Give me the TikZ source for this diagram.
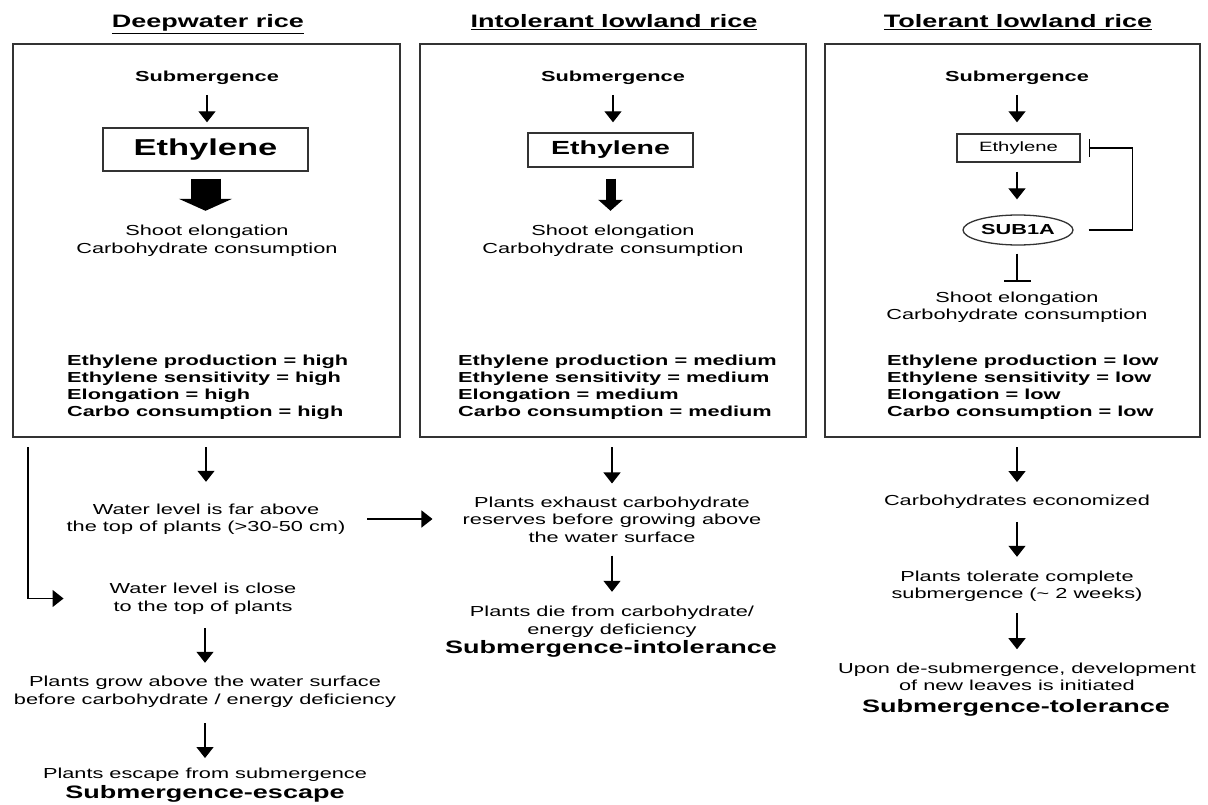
\documentclass[tikz,border=0pt]{standalone}
\usepackage{fontspec}
\setmainfont{Liberation Sans}[FakeStretch=1.5]
\usetikzlibrary{arrows.meta,shapes.geometric,calc}
\begin{document}
\begin{tikzpicture}[x=1pt,y=-1pt,
  txt/.style={inner sep=0pt, align=center, font=\fontsize{14.5}{17.5}\selectfont},
  bld/.style={inner sep=0pt, font=\fontsize{14.5}{17}\selectfont\bfseries},
  stats/.style={inner sep=0pt, align=left, anchor=west, font=\fontsize{14.5}{17}\selectfont\bfseries},
  ttl/.style={inner sep=0pt, anchor=base, font=\fontsize{18}{20}\selectfont\bfseries},
  res/.style={inner sep=0pt, font=\fontsize{18}{20}\selectfont\bfseries},
  panel/.style={draw=black!80, line width=2pt, inner sep=0pt},
  ebox/.style={draw=black!80, line width=1.4pt, inner sep=0pt},
  arr/.style={line width=1.3pt, -{Triangle[width=17pt,length=11pt]}},
  inh/.style={line width=1.3pt, -{Bar[width=27pt]}},
  inhs/.style={line width=1.3pt, -{Bar[width=18pt]}}
]
\useasboundingbox (0,0) rectangle (1208,805);
% titles
\node[ttl] (t1) at (208,28) {\underline{Deepwater rice}};
\node[ttl] (t2) at (614,28) {\underline{Intolerant lowland rice}};
\node[ttl] (t3) at (1018,28) {\underline{Tolerant lowland rice}};
% panels
\node[panel, minimum width=387pt, minimum height=393pt] (b1) at (206.5,240.5) {};
\node[panel, minimum width=386pt, minimum height=393pt] (b2) at (613,240.5) {};
\node[panel, minimum width=375pt, minimum height=393pt] (b3) at (1012.5,240.5) {};
% ---- column 1
\node[bld] (s1) at (207,78) {Submergence};
\node[ebox, minimum width=205pt, minimum height=43pt, font=\fontsize{23}{26}\selectfont\bfseries] (e1) at (205.5,149.5) {Ethylene};
\node[txt] (sh1) at (207,241) {Shoot elongation\\Carbohydrate consumption};
\node[stats] (st1) at (67,387.5) {Ethylene production = high\\Ethylene sensitivity = high\\Elongation = high\\Carbo consumption = high};
\draw[arr, shorten <=10pt, shorten >=5pt] (s1) -- (s1 |- e1.north);
\draw[line width=30pt, -{Triangle[width=53pt,length=12pt]}, shorten <=7pt, shorten >=14.5pt] (e1.south) -- (e1.south |- sh1.north);
\node[txt] (w1) at (206,519) {Water level is far above\\the top of plants (>30-50 cm)};
\node[txt] (w2) at (203,598.5) {Water level is close\\to the top of plants};
\node[txt] (g1) at (205,691.5) {Plants grow above the water surface\\before carbohydrate / energy deficiency};
\node[txt] (esc) at (205,775) {Plants escape from submergence};
\node[res] (escb) at (205,794) {Submergence-escape};
\coordinate (c0) at (28,447);
\draw[arr, shorten <=9pt, shorten >=21.5pt] (w1 |- b1.south) -- (w1.north);
\draw[arr, shorten >=46pt] (c0) |- (w2.west);
\draw[arr, shorten <=14pt, shorten >=13pt] (g1 |- w2.south) -- (g1.north);
\draw[arr, shorten <=16pt, shorten >=10pt] (g1.south) -- (g1.south |- esc.north);
% ---- column 2
\node[bld] (s2) at (613,78) {Submergence};
\node[ebox, minimum width=165pt, minimum height=34pt, font=\fontsize{19}{22}\selectfont\bfseries] (e2) at (610.5,150) {Ethylene};
\node[txt] (sh2) at (613,241) {Shoot elongation\\Carbohydrate consumption};
\node[stats] (st2) at (458,387.5) {Ethylene production = medium\\Ethylene sensitivity = medium\\Elongation = medium\\Carbo consumption = medium};
\draw[arr, shorten <=10pt, shorten >=10pt] (s2) -- (s2 |- e2.north);
\draw[line width=10pt, -{Triangle[width=24pt,length=11pt]}, shorten <=11pt, shorten >=14.5pt] (e2.south) -- (e2.south |- sh2.north);
\node[txt] (p1) at (612,519.5) {Plants exhaust carbohydrate\\reserves before growing above\\the water surface};
\node[txt] (d1) at (612,621.5) {Plants die from carbohydrate/\\energy deficiency};
\node[res] (d1b) at (611,649) {Submergence-intolerance};
\draw[arr, shorten <=9pt, shorten >=13pt] (p1 |- b2.south) -- (p1.north);
\draw[arr, shorten <=13pt, shorten >=14pt] (p1.south) -- (d1.north);
\draw[arr, shorten <=21.5pt, shorten >=30pt] (w1.east) -- (w1.east -| p1.west);
% ---- column 3
\node[bld] (s3) at (1017,78) {Submergence};
\node[ebox, minimum width=123pt, minimum height=28pt, font=\fontsize{13.5}{16}\selectfont] (e3) at (1018.5,148) {Ethylene};
\node[ellipse, draw=black!80, line width=1.3pt, inner sep=0pt, minimum width=110pt, minimum height=30pt, font=\fontsize{14.5}{17}\selectfont\bfseries] (sub) at (1018,230) {SUB1A};
\node[txt] (sh3) at (1017,307.5) {Shoot elongation\\Carbohydrate consumption};
\node[stats] (st3) at (887,387.5) {Ethylene production = low\\Ethylene sensitivity = low\\Elongation = low\\Carbo consumption = low};
\draw[arr, shorten <=10pt, shorten >=11pt] (s3) -- (s3 |- e3.north);
\draw[arr, shorten <=9pt, shorten >=15pt] (s3 |- e3.south) -- (s3 |- sub.north);
\draw[inh, shorten <=8pt, shorten >=10pt] (s3 |- sub.south) -- (s3 |- sh3.north);
\draw[inhs, shorten <=15pt, shorten >=8pt] (sub.east) -- ++(59,0) |- (e3.east);
\node[txt] (c1) at (1017,502) {Carbohydrates economized};
\node[txt] (c2) at (1017,586) {Plants tolerate complete\\submergence (\textasciitilde{} 2 weeks)};
\node[txt] (c3) at (1017,677) {Upon de-submergence, development\\of new leaves is initiated};
\node[res] (c3b) at (1016,708) {Submergence-tolerance};
\draw[arr, shorten <=9pt, shorten >=13pt] (b3.south -| c1) -- (c1.north);
\draw[arr, shorten <=13pt, shorten >=13.5pt] (c1.south) -- (c2.north);
\draw[arr, shorten <=11.5pt, shorten >=13.5pt] (c2.south) -- (c3.north);
\end{tikzpicture}
\end{document}
